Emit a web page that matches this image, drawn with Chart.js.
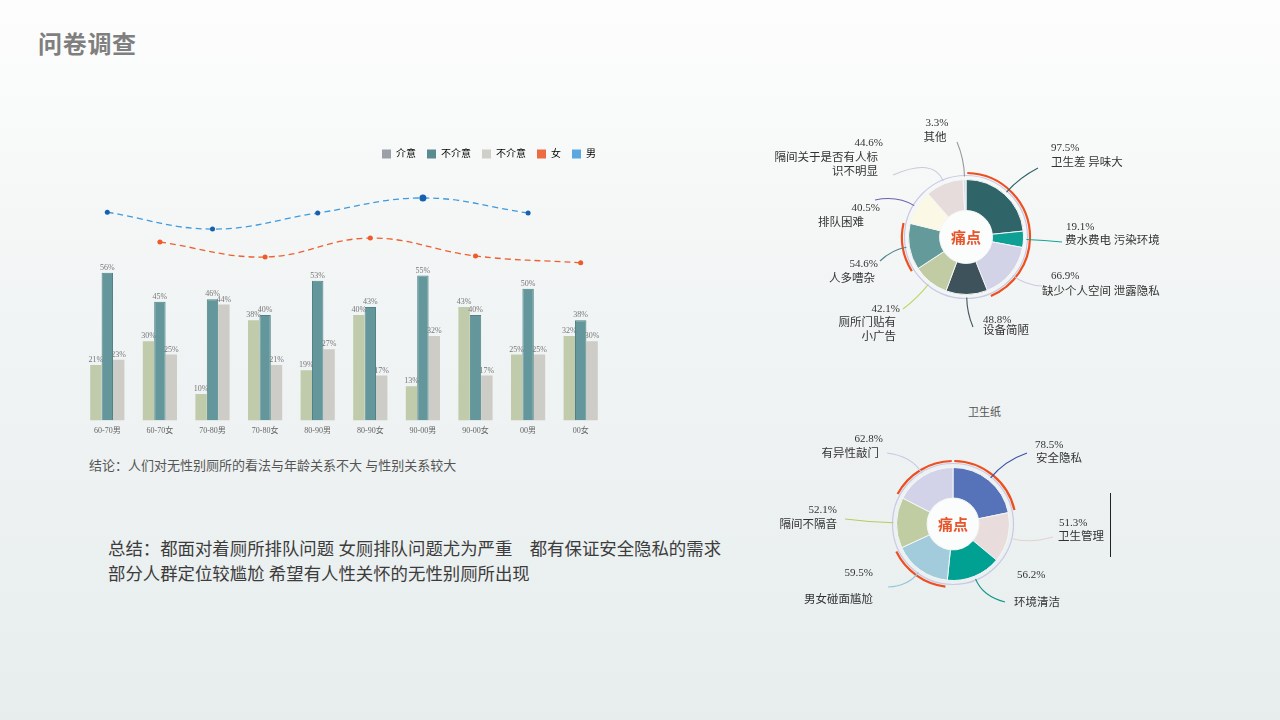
<!DOCTYPE html>
<html>
<head>
<meta charset="utf-8">
<script src="https://cdn.jsdelivr.net/npm/chart.js@4.4.1/dist/chart.umd.min.js"></script>
<style>
  html, body { margin: 0; padding: 0; }
  body {
    width: 1280px; height: 720px; overflow: hidden; position: relative;
    background: linear-gradient(to bottom, #fdfdfd 0%, #f1f4f4 45%, #e7eded 100%);
    font-family: "Liberation Serif", "Noto Sans CJK SC", serif;
  }
  .abs { position: absolute; }
  #title { left: 38px; top: 25px; font: bold 24px "Noto Sans CJK SC", sans-serif; color: #7f7f7f; letter-spacing: 0.7px; }
  #conclusion { left: 89px; top: 455px; font-size: 13px; color: #555; white-space: nowrap; }
  #summary { left: 108px; top: 537px; font-size: 17.4px; line-height: 25px; color: #3c3c3c; white-space: nowrap; }
  #paperTitle { left: 968px; top: 403px; font-size: 11px; color: #555; }
  #vline { left: 1110px; top: 493px; width: 1px; height: 64px; background: #222; }
</style>
</head>
<body>
<div id="title" class="abs">问卷调查</div>
<canvas id="bars" class="abs" width="543" height="304" style="left:77px;top:138px"></canvas>
<div id="conclusion" class="abs">结论：人们对无性别厕所的看法与年龄关系不大 与性别关系较大</div>
<div id="summary" class="abs">总结：都面对着厕所排队问题 女厕排队问题尤为严重　都有保证安全隐私的需求<br>部分人群定位较尴尬 希望有人性关怀的无性别厕所出现</div>
<canvas id="pain" class="abs" width="440" height="260" style="left:760px;top:95px"></canvas>
<div id="paperTitle" class="abs">卫生纸</div>
<canvas id="paper" class="abs" width="440" height="250" style="left:760px;top:395px"></canvas>
<div id="vline" class="abs"></div>
<script>
// ---- bar chart data ----
const ageGroups = ['60-70男', '60-70女', '70-80男', '70-80女', '80-90男', '80-90女', '90-00男', '90-00女', '00男', '00女'];
const careValues = [21, 30, 10, 38, 19, 40, 13, 43, 25, 32];
const notCareValues = [56, 45, 46, 40, 53, 43, 55, 40, 50, 38];
const notCare2Values = [23, 25, 44, 21, 27, 17, 32, 17, 25, 30];
const maleLine = [79, null, 72.6, null, 78.7, null, 84.4, null, 78.7, null];
const femaleLine = [null, 67.7, null, 62, null, 69.2, null, 62.4, null, 59.8];
const legendNames = ['介意', '不介意', '不介意', '女', '男'];

// ---- doughnut data ----
const painNames = ['卫生差 异味大', '费水费电 污染环境', '缺少个人空间 泄露隐私', '设备简陋', '厕所门贴有\n小广告', '人多嘈杂', '排队困难', '隔间关于是否有人标\n识不明显', '其他'];
const painValues = [97.5, 19.1, 66.9, 48.8, 42.1, 54.6, 40.5, 44.6, 3.3];
const painHot = [true, true, true, false, false, true, false, false, false];

const paperNames = ['安全隐私', '卫生管理', '环境清洁', '男女碰面尴尬', '隔间不隔音', '有异性敲门'];
const paperValues = [78.5, 51.3, 56.2, 59.5, 52.1, 62.8];
const paperHot = [true, false, false, true, false, true];

// ---- styles / layout ----
const legendColors = ['#9ba0a6', '#5a8b8f', '#cfcfca', '#ee6a40', '#5aa8df'];
const serif = '"Liberation Serif", "Noto Sans CJK SC", serif';

const painColors = ['#2f6569', '#0fa095', '#d3d3e8', '#3e525c', '#c1cca5', '#659a9b', '#fcf8e6', '#e7dcdc', '#dcdce8'];
const painLayout = [
  { pct: [85, -89], name: [85, -74], align: 'left', end: [72, -69], color: '#2e6468' },
  { pct: [100, -10], name: [99, 4], align: 'left', end: [96, 5], color: '#13a394' },
  { pct: [85, 39], name: [76, 55], align: 'left', end: [76, 49], color: '#c9c9e2' },
  { pct: [17, 83], name: [17, 94], align: 'left', end: [7, 90], color: '#3f5560' },
  { pct: [-66, 72], name: [-70, 86], align: 'right', end: [-63, 72], color: '#c2d46a' },
  { pct: [-88, 27], name: [-91, 42], align: 'right', end: [-86, 24], color: '#4e8688' },
  { pct: [-86, -29], name: [-102, -14], align: 'right', end: [-91, -37], color: '#6f5fb0' },
  { pct: [-83, -94], name: [-88, -79], align: 'right', end: [-73, -62], color: '#c5cad8' },
  { pct: [-29, -114], name: [-31, -99], align: 'center', end: [-9, -95], color: '#9a9a9a' }
];
const paperColors = ['#5673b9', '#e8dcdc', '#00a093', '#a2cbdb', '#c0cca2', '#d2d2e8'];
const paperLayout = [
  { pct: [82, -79], name: [83, -65], align: 'left', end: [74, -71], color: '#3552a6' },
  { pct: [106, -1], name: [105, 13], align: 'left', end: [100, 13], color: '#e2d2d2' },
  { pct: [64, 51], name: [61, 79], align: 'left', end: [52, 78], color: '#10968a' },
  { pct: [-80, 49], name: [-80, 76], align: 'right', end: [-65, 63], color: '#96c6d6' },
  { pct: [-116, -14], name: [-116, 1], align: 'right', end: [-108, -5], color: '#b6cc5c' },
  { pct: [-70, -85], name: [-74, -70], align: 'right', end: [-66, -71], color: '#c8c8e2' }
];

// value labels above bars
const barValues = {
  id: 'barValues',
  afterDatasetsDraw(chart) {
    const ctx = chart.ctx;
    ctx.save();
    ctx.font = '8px ' + serif;
    ctx.fillStyle = '#777';
    ctx.textAlign = 'center';
    ctx.textBaseline = 'bottom';
    [0, 1, 2].forEach(di => {
      const ds = chart.data.datasets[di];
      chart.getDatasetMeta(di).data.forEach((bar, i) => {
        ctx.fillText(ds.data[i] + '%', bar.x, bar.y - 1);
      });
    });
    ctx.restore();
  }
};

new Chart(document.getElementById('bars'), {
  type: 'bar',
  data: {
    labels: ageGroups,
    datasets: [
      { label: '介意', data: careValues, backgroundColor: '#bfcbaa', borderWidth: 0 },
      { label: '不介意', data: notCareValues, backgroundColor: '#64979b', borderColor: '#4f8387', borderWidth: 1 },
      { label: '不介意', data: notCare2Values, backgroundColor: '#cdccc6', borderWidth: 0 },
      { type: 'line', label: '女', data: femaleLine, spanGaps: true, tension: 0.4,
        borderColor: '#ee6030', borderWidth: 1.3, borderDash: [6, 4],
        pointRadius: 2.5, pointBackgroundColor: '#ee5a28', pointBorderWidth: 0 },
      { type: 'line', label: '男', data: maleLine, spanGaps: true, tension: 0.4,
        borderColor: '#3d9be0', borderWidth: 1.3, borderDash: [6, 4],
        pointRadius: [2.5, 0, 2.5, 0, 2.5, 0, 3.5, 0, 2.5, 0], pointBackgroundColor: '#1560b0', pointBorderWidth: 0 }
    ]
  },
  options: {
    responsive: false,
    animation: false,
    layout: { padding: { left: 0, right: 13, top: 0, bottom: 0 } },
    datasets: { bar: { categoryPercentage: 0.65, barPercentage: 1.0 } },
    scales: {
      x: {
        grid: { display: false, drawTicks: false },
        border: { display: false },
        ticks: { font: { size: 8, family: serif }, color: '#666', padding: 6, maxRotation: 0 }
      },
      y: { display: false, min: 0, max: 95.4 }
    },
    plugins: {
      tooltip: { enabled: false },
      legend: {
        align: 'end',
        labels: {
          boxWidth: 9, boxHeight: 9, padding: 11,
          font: { size: 10, family: serif }, color: '#555',
          generateLabels: () => legendNames.map((t, i) => ({
            text: t, fillStyle: legendColors[i], strokeStyle: legendColors[i], lineWidth: 0, hidden: false, datasetIndex: i
          }))
        }
      }
    }
  },
  plugins: [barValues]
});

// ring, highlight arcs, centre text and callouts for the doughnuts
const painRing = {
  id: 'painRing',
  afterDraw(chart, args, opts) {
    const ctx = chart.ctx;
    const arcs = chart.getDatasetMeta(0).data;
    const cx = arcs[0].x, cy = arcs[0].y;
    const R = arcs[0].outerRadius, r = arcs[0].innerRadius;
    const values = chart.data.datasets[0].data;
    ctx.save();
    ctx.fillStyle = '#fbfcfc';
    ctx.beginPath(); ctx.arc(cx, cy, r - 0.5, 0, Math.PI * 2); ctx.fill();
    ctx.strokeStyle = '#c9c9e6'; ctx.lineWidth = 1.2;
    ctx.beginPath(); ctx.arc(cx, cy, R + 4, 0, Math.PI * 2); ctx.stroke();
    // merged hot ranges
    ctx.strokeStyle = '#ee4f1e'; ctx.lineWidth = 2.2;
    let i = 0;
    while (i < arcs.length) {
      if (!opts.hot[i]) { i++; continue; }
      let j = i;
      while (j + 1 < arcs.length && opts.hot[j + 1]) j++;
      ctx.beginPath();
      ctx.arc(cx, cy, R + 6.5, arcs[i].startAngle + 0.02, arcs[j].endAngle - 0.02);
      ctx.stroke();
      i = j + 1;
    }
    // centre
    ctx.fillStyle = '#e9552b';
    ctx.font = 'bold 15px "Noto Sans CJK SC", sans-serif';
    ctx.textAlign = 'center'; ctx.textBaseline = 'middle';
    ctx.fillText('痛点', cx, cy);
    // callouts
    arcs.forEach((a, k) => {
      const L = opts.layout[k];
      const mid = (a.startAngle + a.endAngle) / 2;
      const ux = Math.cos(mid), uy = Math.sin(mid);
      const sx = cx + ux * (R + 3), sy = cy + uy * (R + 3);
      const ex = cx + L.end[0], ey = cy + L.end[1];
      const d = Math.hypot(ex - sx, ey - sy);
      ctx.strokeStyle = L.color; ctx.lineWidth = 1.1;
      ctx.beginPath();
      ctx.moveTo(sx, sy);
      ctx.quadraticCurveTo(sx + ux * d * 0.5, sy + uy * d * 0.5, ex, ey);
      ctx.stroke();
      ctx.fillStyle = '#333';
      ctx.textAlign = L.align;
      ctx.font = '11px ' + serif;
      ctx.fillText(values[k] + '%', cx + L.pct[0], cy + L.pct[1]);
      ctx.font = '11.5px ' + serif;
      opts.names[k].split('\n').forEach((line, n) => {
        ctx.fillText(line, cx + L.name[0], cy + L.name[1] + n * 14);
      });
    });
    ctx.restore();
  }
};

function makeDoughnut(id, names, values, colors, hot, layout, padding) {
  new Chart(document.getElementById(id), {
    type: 'doughnut',
    data: {
      labels: names,
      datasets: [{ data: values, backgroundColor: colors, borderColor: '#f4f6f6', borderWidth: 1 }]
    },
    options: {
      responsive: false,
      animation: false,
      cutout: '46%',
      layout: { padding: padding },
      plugins: {
        legend: { display: false },
        tooltip: { enabled: false },
        painRing: { hot: hot, layout: layout, names: names }
      }
    },
    plugins: [painRing]
  });
}

makeDoughnut('pain', painNames, painValues, painColors, painHot, painLayout,
  { left: 148, right: 176, top: 84, bottom: 60 });
makeDoughnut('paper', paperNames, paperValues, paperColors, paperHot, paperLayout,
  { left: 136, right: 190, top: 72, bottom: 64 });
</script>
</body>
</html>
